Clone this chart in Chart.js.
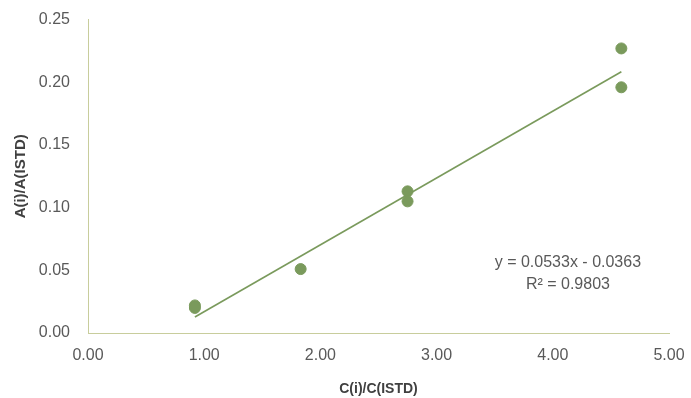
<!DOCTYPE html>
<html>
<head>
<meta charset="UTF-8" />
<title>Calibration curve</title>
<script src="https://cdn.jsdelivr.net/npm/chart.js"></script>
<style>
  html, body { margin: 0; padding: 0; background: #fff; }
  #wrap { width: 691px; height: 398px; }
</style>
</head>
<body>
<div id="wrap"><canvas id="chart"></canvas></div>
<script>
// calibration points: concentration ratio vs area ratio
const concRatio = [0.92, 0.92, 1.83, 2.75, 2.75, 4.59, 4.59];
const areaRatio = [0.022, 0.020, 0.051, 0.113, 0.105, 0.227, 0.196];

// linear fit as printed on the chart
const slope = 0.0533;
const intercept = -0.0363;
const rSquared = 0.9803;
const fitLabels = ['y = 0.0533x - 0.0363', 'R² = 0.9803'];

const xTicks = [0, 1, 2, 3, 4, 5];
const yTicks = [0, 0.05, 0.10, 0.15, 0.20, 0.25];

const green = '#7a9a5c';
const axisCol = '#c8cd9c';
const textCol = '#595959';
const font = 'Liberation Sans, Arial, sans-serif';

const points = concRatio.map((x, i) => ({ x, y: areaRatio[i] }));
const xMin = Math.min(...concRatio), xMax = Math.max(...concRatio);
const fitLine = [xMin, xMax].map(x => ({ x, y: slope * x + intercept }));

// equation text drawn below the right end of the fit line
const eqPlugin = {
  id: 'eqText',
  afterDatasetsDraw(chart) {
    const { ctx, scales: { x, y } } = chart;
    ctx.save();
    ctx.fillStyle = textCol;
    ctx.font = '16px ' + font;
    ctx.textAlign = 'center';
    ctx.textBaseline = 'middle';
    const cx = x.getPixelForValue(4.13);
    ctx.fillText(fitLabels[0], cx, y.getPixelForValue(0.056));
    ctx.fillText(fitLabels[1], cx, y.getPixelForValue(0.0385));
    ctx.restore();
  }
};

new Chart(document.getElementById('chart'), {
  type: 'scatter',
  data: {
    datasets: [
      {
        label: 'fit',
        data: fitLine,
        showLine: true,
        borderColor: green,
        borderWidth: 1.6,
        pointRadius: 0,
        fill: false
      },
      {
        label: 'A(i)/A(ISTD)',
        data: points,
        backgroundColor: green,
        borderColor: green,
        pointRadius: 5.5,
        pointHoverRadius: 5.5
      }
    ]
  },
  options: {
    responsive: true,
    maintainAspectRatio: false,
    animation: false,
    layout: { padding: { left: 0, right: 22, top: 8, bottom: 0 } },
    plugins: {
      legend: { display: false },
      tooltip: { enabled: false }
    },
    scales: {
      x: {
        type: 'linear',
        min: 0, max: 5,
        afterBuildTicks: s => { s.ticks = xTicks.map(v => ({ value: v })); },
        afterFit: s => { s.height = 65; },
        grid: { display: false },
        border: { display: true, color: axisCol, width: 1 },
        ticks: {
          color: textCol,
          font: { family: font, size: 16 },
          padding: 5,
          callback: v => v.toFixed(2)
        },
        title: {
          display: true,
          text: 'C(i)/C(ISTD)',
          color: '#404040',
          font: { family: font, size: 14, weight: 'bold' },
          padding: { top: 4, bottom: 0 }
        }
      },
      y: {
        type: 'linear',
        min: 0, max: 0.25,
        afterBuildTicks: s => { s.ticks = yTicks.map(v => ({ value: v })); },
        afterFit: s => { s.width = 88; },
        grid: { display: false },
        border: { display: true, color: axisCol, width: 1 },
        ticks: {
          color: textCol,
          font: { family: font, size: 16 },
          padding: 10,
          callback: v => v.toFixed(2)
        },
        title: {
          display: true,
          text: 'A(i)/A(ISTD)',
          color: '#404040',
          font: { family: font, size: 15, weight: 'bold' },
          padding: { top: 12, bottom: 2 }
        }
      }
    }
  },
  plugins: [eqPlugin]
});
</script>
</body>
</html>
